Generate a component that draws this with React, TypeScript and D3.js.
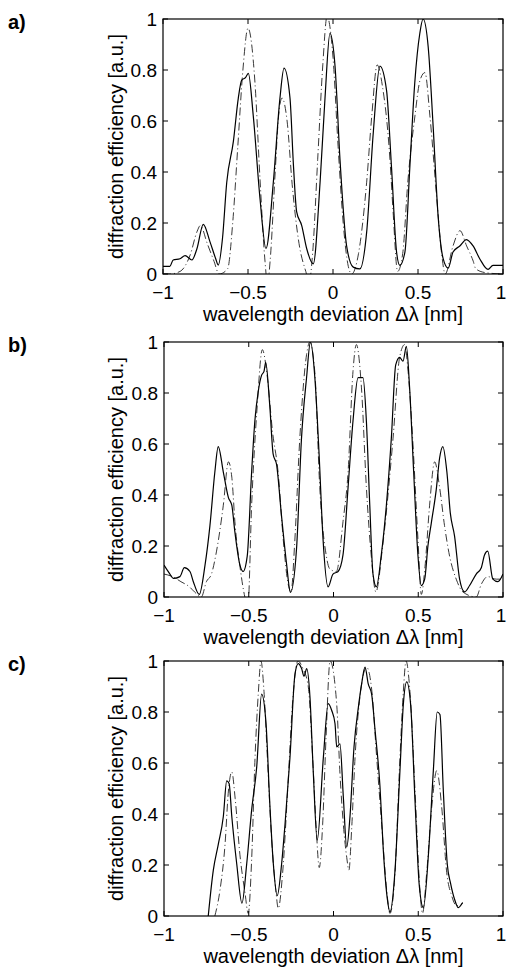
import React from "react";
import * as d3 from "d3";

// wavelength deviation (nm) / diffraction efficiency (a.u.) pairs
type Pt = [number, number];

const measuredA: Pt[] = [
  [-1, 0.03], [-0.96, 0.03], [-0.94, 0.055], [-0.9, 0.06], [-0.87, 0.072], [-0.83, 0.055],
  [-0.8, 0.1], [-0.763, 0.195], [-0.724, 0.127], [-0.69, 0.06], [-0.675, 0.035], [-0.65, 0.14],
  [-0.625, 0.36], [-0.586, 0.52], [-0.557, 0.69], [-0.537, 0.76], [-0.515, 0.77], [-0.498, 0.787],
  [-0.469, 0.62], [-0.43, 0.3], [-0.394, 0.1], [-0.351, 0.36], [-0.312, 0.69], [-0.288, 0.807],
  [-0.253, 0.69], [-0.233, 0.43], [-0.214, 0.245], [-0.184, 0.19], [-0.155, 0.1], [-0.116, 0.04],
  [-0.076, 0.36], [-0.047, 0.69], [-0.018, 0.944], [0.012, 0.815], [0.041, 0.45], [0.08, 0.11],
  [0.119, 0.027], [0.158, 0.02], [0.198, 0.164], [0.237, 0.555], [0.276, 0.815], [0.315, 0.72],
  [0.344, 0.42], [0.374, 0.086], [0.393, 0.034], [0.423, 0.086], [0.452, 0.42], [0.481, 0.75],
  [0.511, 0.945], [0.53, 1.0], [0.56, 0.89], [0.589, 0.58], [0.618, 0.23], [0.648, 0.06],
  [0.677, 0.023], [0.706, 0.086], [0.746, 0.11], [0.785, 0.135], [0.824, 0.11], [0.863, 0.06],
  [0.912, 0.018], [0.941, 0.034], [1, 0.034],
];

const simulatedA: Pt[] = [
  [-1, 0.0], [-0.96, 0.0], [-0.9, 0.01], [-0.84, 0.075], [-0.8, 0.166], [-0.78, 0.19],
  [-0.74, 0.12], [-0.7, 0.05], [-0.67, 0.0], [-0.62, 0.02], [-0.59, 0.2], [-0.56, 0.5],
  [-0.53, 0.8], [-0.5, 0.964], [-0.459, 0.75], [-0.43, 0.38], [-0.4, 0.05], [-0.385, -0.04],
  [-0.37, 0.05], [-0.34, 0.4], [-0.32, 0.62], [-0.3, 0.69], [-0.27, 0.6], [-0.24, 0.35],
  [-0.2, 0.12], [-0.16, 0.01], [-0.14, -0.03], [-0.12, 0.08], [-0.09, 0.45], [-0.06, 0.82],
  [-0.035, 1.01], [0.0, 0.85], [0.03, 0.5], [0.06, 0.2], [0.09, 0.03], [0.11, 0.0],
  [0.15, 0.08], [0.198, 0.36], [0.228, 0.62], [0.26, 0.82], [0.29, 0.74], [0.335, 0.45],
  [0.353, 0.25], [0.38, 0.01], [0.41, 0.08], [0.44, 0.36], [0.482, 0.62], [0.512, 0.76],
  [0.541, 0.79], [0.57, 0.62], [0.61, 0.3], [0.639, 0.08], [0.66, 0.0], [0.706, 0.11],
  [0.747, 0.17], [0.786, 0.11], [0.825, 0.05], [0.84, 0.02], [0.9, 0.005], [1, 0.0],
];

const measuredB: Pt[] = [
  [-1, 0.125], [-0.965, 0.09], [-0.945, 0.073], [-0.906, 0.08], [-0.88, 0.115], [-0.847, 0.1],
  [-0.827, 0.06], [-0.792, 0.01], [-0.758, 0.125], [-0.729, 0.28], [-0.7, 0.49], [-0.68, 0.59],
  [-0.65, 0.49], [-0.62, 0.39], [-0.6, 0.36], [-0.582, 0.256], [-0.552, 0.125], [-0.533, 0.1],
  [-0.509, 0.16], [-0.483, 0.49], [-0.464, 0.69], [-0.444, 0.806], [-0.424, 0.87], [-0.41, 0.885],
  [-0.4, 0.92], [-0.376, 0.75], [-0.356, 0.56], [-0.336, 0.52], [-0.307, 0.32], [-0.277, 0.13],
  [-0.254, 0.018], [-0.218, 0.19], [-0.189, 0.62], [-0.159, 0.86], [-0.136, 1.0], [-0.11, 0.86],
  [-0.085, 0.56], [-0.062, 0.23], [-0.032, 0.04], [-0.003, 0.09], [0.027, 0.1], [0.056, 0.165],
  [0.086, 0.43], [0.115, 0.69], [0.145, 0.86], [0.174, 0.86], [0.194, 0.69], [0.214, 0.36],
  [0.233, 0.09], [0.253, 0.04], [0.282, 0.165], [0.312, 0.36], [0.341, 0.62], [0.367, 0.91],
  [0.39, 0.94], [0.41, 0.925], [0.43, 0.983], [0.449, 0.82], [0.473, 0.49], [0.498, 0.165],
  [0.518, 0.045], [0.538, 0.07], [0.557, 0.2], [0.577, 0.29], [0.606, 0.42], [0.626, 0.545],
  [0.645, 0.59], [0.669, 0.49], [0.689, 0.33], [0.714, 0.24], [0.744, 0.07], [0.773, 0.02],
  [0.803, 0.045], [0.842, 0.09], [0.872, 0.115], [0.891, 0.165], [0.91, 0.18], [0.94, 0.07],
  [0.97, 0.06], [1, 0.09],
];

const simulatedB: Pt[] = [
  [-1, 0.09], [-0.95, 0.08], [-0.9, 0.06], [-0.85, 0.04], [-0.82, 0.02], [-0.78, 0.0],
  [-0.75, 0.06], [-0.72, 0.09], [-0.69, 0.18], [-0.65, 0.36], [-0.62, 0.53], [-0.6, 0.47],
  [-0.58, 0.28], [-0.552, 0.12], [-0.523, 0.0], [-0.505, -0.04], [-0.483, 0.36], [-0.45, 0.75],
  [-0.42, 0.97], [-0.39, 0.86], [-0.36, 0.65], [-0.327, 0.49], [-0.297, 0.23], [-0.27, 0.06],
  [-0.25, 0.02], [-0.23, 0.2], [-0.199, 0.62], [-0.159, 0.95], [-0.14, 1.0], [-0.11, 0.88],
  [-0.081, 0.43], [-0.042, 0.16], [-0.022, 0.11], [0.017, 0.1], [0.056, 0.295], [0.086, 0.49],
  [0.115, 0.885], [0.135, 0.99], [0.165, 0.82], [0.194, 0.43], [0.223, 0.16], [0.25, 0.02],
  [0.29, 0.2], [0.351, 0.62], [0.39, 0.94], [0.42, 0.99], [0.44, 0.885], [0.467, 0.62],
  [0.498, 0.23], [0.518, 0.01], [0.54, 0.12], [0.567, 0.36], [0.597, 0.53], [0.626, 0.43],
  [0.655, 0.28], [0.685, 0.16], [0.724, 0.07], [0.763, 0.02], [0.842, 0.0], [0.872, 0.05],
  [0.91, 0.08], [0.96, 0.07], [1, 0.07],
];

const measuredC: Pt[] = [
  [-0.739, 0.0], [-0.709, 0.18], [-0.68, 0.28], [-0.65, 0.39], [-0.63, 0.53], [-0.616, 0.52],
  [-0.6, 0.39], [-0.571, 0.205], [-0.54, 0.05], [-0.512, 0.205], [-0.483, 0.415], [-0.453, 0.585],
  [-0.424, 0.87], [-0.398, 0.754], [-0.375, 0.43], [-0.355, 0.205], [-0.332, 0.08], [-0.306, 0.205],
  [-0.286, 0.36], [-0.257, 0.62], [-0.227, 0.95], [-0.208, 0.99], [-0.188, 0.97], [-0.174, 0.94],
  [-0.158, 0.97], [-0.139, 0.86], [-0.119, 0.56], [-0.096, 0.297], [-0.06, 0.62], [-0.031, 0.833],
  [-0.011, 0.807], [0.009, 0.754], [0.019, 0.663], [0.038, 0.675], [0.058, 0.467], [0.078, 0.27],
  [0.097, 0.388], [0.121, 0.663], [0.147, 0.82], [0.166, 0.91], [0.186, 0.976], [0.205, 0.91],
  [0.225, 0.87], [0.245, 0.73], [0.274, 0.51], [0.294, 0.257], [0.317, 0.07], [0.333, 0.016],
  [0.363, 0.18], [0.392, 0.57], [0.412, 0.83], [0.432, 0.918], [0.455, 0.83], [0.481, 0.45],
  [0.506, 0.12], [0.53, 0.033], [0.56, 0.24], [0.589, 0.57], [0.612, 0.8], [0.628, 0.79],
  [0.648, 0.49], [0.671, 0.205], [0.691, 0.127], [0.717, 0.06], [0.736, 0.033], [0.762, 0.053],
];

const simulatedC: Pt[] = [
  [-0.7, 0.0], [-0.67, 0.1], [-0.64, 0.28], [-0.62, 0.49], [-0.6, 0.565], [-0.58, 0.46],
  [-0.552, 0.24], [-0.522, 0.09], [-0.503, 0.01], [-0.483, 0.22], [-0.463, 0.62], [-0.443, 0.88],
  [-0.428, 1.0], [-0.41, 0.88], [-0.39, 0.62], [-0.365, 0.3], [-0.34, 0.1], [-0.326, 0.03],
  [-0.3, 0.17], [-0.27, 0.5], [-0.24, 0.85], [-0.21, 1.0], [-0.18, 0.97], [-0.149, 0.9],
  [-0.123, 0.62], [-0.103, 0.36], [-0.084, 0.19], [-0.064, 0.36], [-0.044, 0.7], [-0.02, 1.0],
  [0.019, 0.83], [0.038, 0.56], [0.058, 0.36], [0.078, 0.23], [0.091, 0.18], [0.107, 0.34],
  [0.127, 0.62], [0.156, 0.86], [0.196, 0.975], [0.225, 0.89], [0.255, 0.62], [0.284, 0.36],
  [0.314, 0.1], [0.333, 0.01], [0.363, 0.17], [0.392, 0.62], [0.412, 0.88], [0.428, 1.0],
  [0.451, 0.88], [0.481, 0.49], [0.51, 0.1], [0.525, 0.01], [0.55, 0.17], [0.58, 0.43],
  [0.609, 0.57], [0.638, 0.43], [0.668, 0.17], [0.697, 0.08], [0.727, 0.04], [0.762, 0.05],
];

const xTicks = [-1, -0.5, 0, 0.5, 1];
const yTicks = [0, 0.2, 0.4, 0.6, 0.8, 1];
const panelLabels = ["a)", "b)", "c)"];

const FONT = "'Liberation Sans', Arial, Helvetica, sans-serif";
const fmt = (v: number) => String(v).replace("-", "\u2212");

type PanelProps = {
  id: string;
  label: string;
  left: number;
  top: number;
  measured: Pt[];
  simulated: Pt[];
};

const Panel = ({ id, label, left, top, measured, simulated }: PanelProps) => {
  const right = 503;
  const w = right - left;
  const h = 255;
  const x = d3.scaleLinear().domain([-1, 1]).range([left, right]);
  const y = d3.scaleLinear().domain([0, 1]).range([top + h, top]);
  const line = d3
    .line<Pt>()
    .x((d) => x(d[0]))
    .y((d) => y(d[1]))
    .curve(d3.curveMonotoneX);
  const tick = 5;

  return (
    <g>
      <defs>
        <clipPath id={`clip-${id}`}>
          <rect x={left} y={top} width={w} height={h} />
        </clipPath>
      </defs>
      <text x={8} y={top + 10} fontSize={20} fontWeight="bold" fontFamily={FONT}>
        {label}
      </text>
      <g clipPath={`url(#clip-${id})`}>
        <path d={line(simulated) || ""} fill="none" stroke="#222" strokeWidth={0.9}
          strokeDasharray="8,3,1,3" />
        <path d={line(measured) || ""} fill="none" stroke="#000" strokeWidth={1.2} />
      </g>
      <rect x={left} y={top} width={w} height={h} fill="none" stroke="#000" strokeWidth={1.2} />
      {xTicks.map((t) => (
        <g key={`x${t}`}>
          <line x1={x(t)} x2={x(t)} y1={top + h} y2={top + h - tick} stroke="#000" />
          <line x1={x(t)} x2={x(t)} y1={top} y2={top + tick} stroke="#000" />
          <text x={Math.min(x(t), 501)} y={top + h + 25} textAnchor="middle" fontSize={19}
            fontFamily={FONT}>
            {fmt(t)}
          </text>
        </g>
      ))}
      {yTicks.map((t) => (
        <g key={`y${t}`}>
          <line x1={left} x2={left + tick} y1={y(t)} y2={y(t)} stroke="#000" />
          <line x1={right} x2={right - tick} y1={y(t)} y2={y(t)} stroke="#000" />
          <text x={left - 6} y={y(t) + 6.5} textAnchor="end" fontSize={19} fontFamily={FONT}>
            {fmt(t)}
          </text>
        </g>
      ))}
      <text x={left + w / 2} y={top + h + 47} textAnchor="middle" fontSize={20} fontFamily={FONT}>
        wavelength deviation {"\u0394\u03bb"} [nm]
      </text>
      <text
        transform={`translate(123, ${top + h / 2}) rotate(-90)`}
        textAnchor="middle"
        fontSize={20}
        fontFamily={FONT}
      >
        diffraction efficiency [a.u.]
      </text>
    </g>
  );
};

export default function App() {
  const panels = [
    { id: "a", left: 163, top: 19, measured: measuredA, simulated: simulatedA },
    { id: "b", left: 164, top: 342, measured: measuredB, simulated: simulatedB },
    { id: "c", left: 164, top: 661, measured: measuredC, simulated: simulatedC },
  ];
  return (
    <svg
      width={507}
      height={967}
      style={{ position: "absolute", left: 0, top: 0, background: "#fff" }}
    >
      {panels.map((p, i) => (
        <Panel key={p.id} {...p} label={panelLabels[i]} />
      ))}
    </svg>
  );
}
